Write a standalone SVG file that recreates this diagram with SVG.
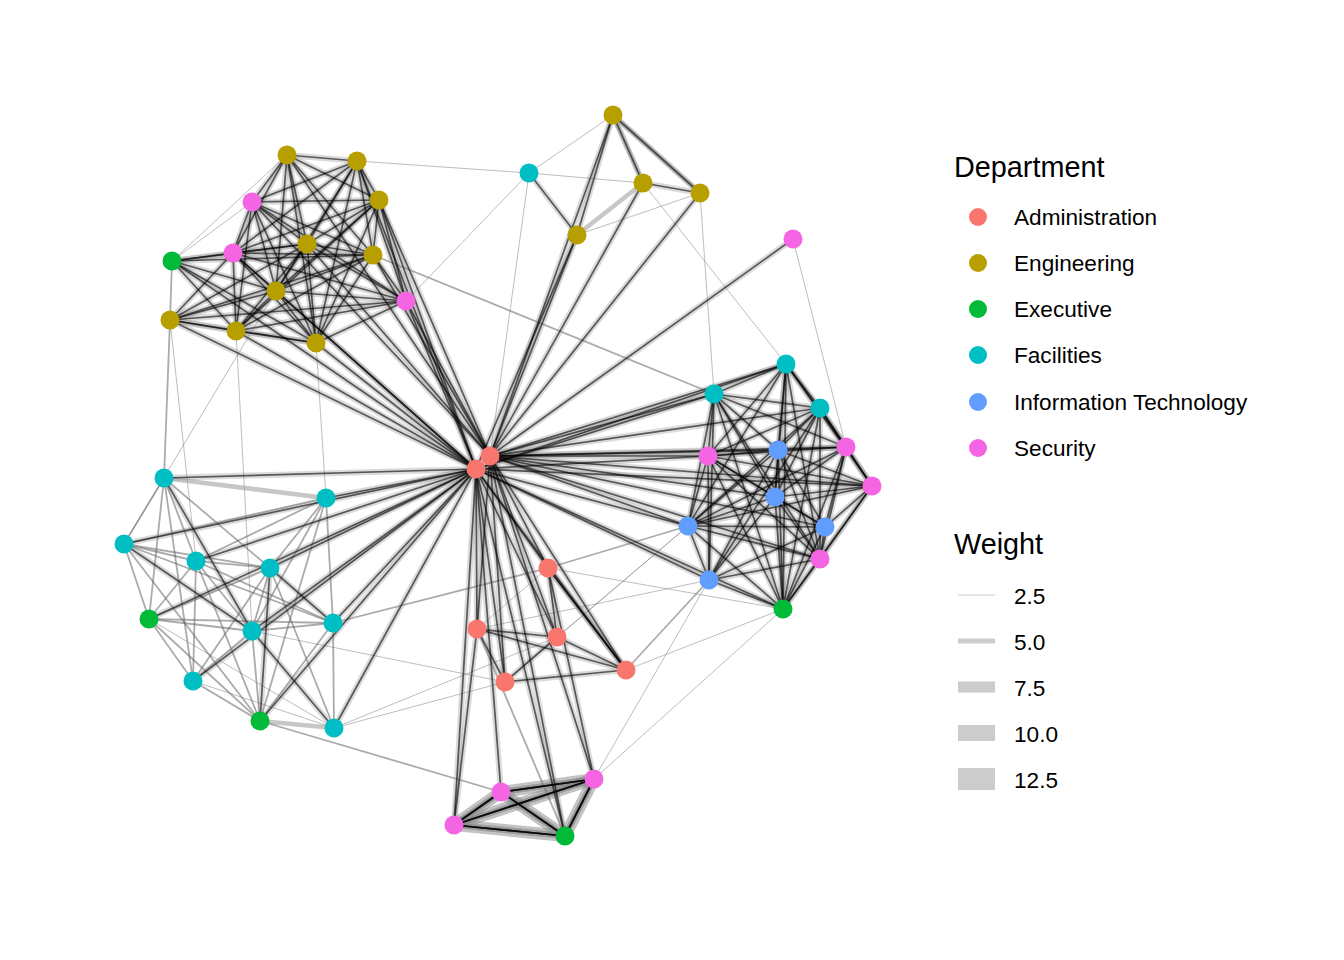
<svg xmlns="http://www.w3.org/2000/svg" xmlns:xlink="http://www.w3.org/1999/xlink" width="1344" height="960" viewBox="0 0 1344 960">
<style>
.core{stroke:#000;stroke-opacity:.6;stroke-width:1.7;fill:none}
.halo{stroke:#888;stroke-opacity:.3;stroke-width:6;fill:none}
.med{stroke:#666;stroke-opacity:.55;stroke-width:1.8;fill:none}
.weak{stroke:#777;stroke-opacity:.6;stroke-width:.8;fill:none}
.thick{stroke:#999;stroke-opacity:.55;stroke-width:4.5;fill:none}
.quad{stroke:#888;stroke-opacity:.5;stroke-width:12;fill:none}
.adm{fill:#F8766D}.eng{fill:#B79F00}.exe{fill:#00BA38}.fac{fill:#00BFC4}.it{fill:#619CFF}.sec{fill:#F564E3}
.lt{font-family:"Liberation Sans",Arial,sans-serif;fill:#000}
.title{font-size:28.8px}
.item{font-size:22.6px}
.wl{stroke:#cccccc}
</style>
<rect width="1344" height="960" fill="#fff"/>
<g id="connectors">
<g class="weak">
<path d="M357 161L529 173"/><path d="M529 173L406 301"/><path d="M529 173L490 456"/><path d="M529 173L613 115"/><path d="M529 173L643 183"/>
<path d="M577 235L700 193"/><path d="M793 239L846 447"/><path d="M700 193L714 394"/><path d="M643 183L786 364"/>
<path d="M316 343L326 498"/><path d="M236 331L252 631"/><path d="M170 320L196 561"/><path d="M276 291L124 544"/>
<path d="M505 682L252 631"/><path d="M557 637L334 728"/><path d="M594 779L709 580"/><path d="M594 779L783 609"/>
<path d="M626 670L783 609"/><path d="M505 682L688 526"/><path d="M557 637L688 526"/><path d="M548 568L783 609"/>
<path d="M477 629L709 580"/><path d="M172 261L287 155"/><path d="M172 261L252 202"/><path d="M548 568L477 629"/>
<path d="M334 728L505 682"/><path d="M193 681L334 728"/><path d="M149 619L334 728"/>
</g>
<g class="thick">
<path d="M164 478L326 498"/><path d="M260 721L334 728"/><path d="M643 183L577 235"/><path d="M613 115L700 193"/><path d="M613 115L643 183"/>
</g>
<g class="quad">
<path d="M501 792L594 779"/><path d="M501 792L454 825"/><path d="M501 792L565 836"/><path d="M594 779L454 825"/><path d="M594 779L565 836"/><path d="M454 825L565 836"/>
</g>
<g class="med">
<path d="M170 320L164 478"/><path d="M172 261L170 320"/><path d="M373 255L714 394"/><path d="M548 568L688 526"/>
<path d="M626 670L709 580"/><path d="M333 623L548 568"/><path d="M260 721L501 792"/><path d="M565 836L477 629"/>
<path d="M164 478L124 544"/><path d="M164 478L196 561"/><path d="M164 478L270 568"/><path d="M164 478L149 619"/><path d="M164 478L193 681"/>
<path d="M124 544L196 561"/><path d="M124 544L270 568"/><path d="M124 544L333 623"/><path d="M124 544L149 619"/><path d="M124 544L260 721"/><path d="M124 544L326 498"/>
<path d="M196 561L270 568"/><path d="M196 561L252 631"/><path d="M196 561L333 623"/><path d="M196 561L149 619"/><path d="M196 561L193 681"/><path d="M196 561L260 721"/><path d="M196 561L326 498"/>
<path d="M270 568L252 631"/><path d="M270 568L193 681"/><path d="M270 568L334 728"/><path d="M270 568L326 498"/><path d="M270 568L149 619"/>
<path d="M252 631L333 623"/><path d="M252 631L193 681"/><path d="M252 631L260 721"/><path d="M252 631L149 619"/><path d="M252 631L326 498"/>
<path d="M333 623L334 728"/><path d="M333 623L260 721"/><path d="M333 623L149 619"/><path d="M333 623L326 498"/>
<path d="M193 681L260 721"/><path d="M193 681L149 619"/><path d="M149 619L260 721"/><path d="M260 721L326 498"/>
</g>
<use href="#strongEdges" xlink:href="#strongEdges" class="halo"/>
<g class="core">
<g id="strongEdges">
<path d="M476 469L170 320"/><path d="M476 469L236 331"/><path d="M476 469L276 291"/><path d="M476 469L172 261"/><path d="M476 469L233 253"/><path d="M476 469L316 343"/>
<path d="M490 456L307 244"/><path d="M490 456L287 155"/><path d="M490 456L379 200"/><path d="M490 456L373 255"/><path d="M490 456L406 301"/><path d="M476 469L406 301"/>
<path d="M490 456L252 202"/><path d="M476 469L357 161"/><path d="M476 469L379 200"/>
<path d="M490 456L577 235"/><path d="M476 469L577 235"/><path d="M490 456L613 115"/><path d="M490 456L643 183"/><path d="M490 456L700 193"/><path d="M490 456L793 239"/>
<path d="M490 456L786 364"/><path d="M476 469L786 364"/><path d="M490 456L714 394"/><path d="M476 469L714 394"/><path d="M490 456L708 456"/><path d="M476 469L708 456"/>
<path d="M490 456L778 450"/><path d="M490 456L846 447"/><path d="M490 456L872 486"/><path d="M476 469L872 486"/><path d="M490 456L775 497"/><path d="M490 456L688 526"/>
<path d="M476 469L688 526"/><path d="M490 456L825 527"/><path d="M490 456L820 559"/><path d="M476 469L709 580"/><path d="M476 469L783 609"/><path d="M490 456L820 408"/>
<path d="M490 456L548 568"/><path d="M476 469L548 568"/><path d="M476 469L477 629"/><path d="M490 456L477 629"/><path d="M476 469L557 637"/><path d="M490 456L557 637"/>
<path d="M476 469L505 682"/><path d="M490 456L505 682"/><path d="M490 456L626 670"/><path d="M476 469L626 670"/><path d="M476 469L501 792"/><path d="M490 456L594 779"/>
<path d="M476 469L454 825"/><path d="M490 456L565 836"/><path d="M476 469L565 836"/>
<path d="M476 469L164 478"/><path d="M476 469L326 498"/><path d="M476 469L124 544"/><path d="M476 469L196 561"/><path d="M476 469L270 568"/><path d="M476 469L252 631"/>
<path d="M476 469L333 623"/><path d="M476 469L193 681"/><path d="M476 469L334 728"/><path d="M476 469L149 619"/><path d="M476 469L260 721"/>
<path d="M287 155L357 161"/><path d="M287 155L252 202"/><path d="M287 155L233 253"/><path d="M287 155L307 244"/><path d="M287 155L373 255"/><path d="M287 155L379 200"/>
<path d="M287 155L276 291"/><path d="M287 155L316 343"/><path d="M357 161L379 200"/><path d="M357 161L252 202"/><path d="M357 161L307 244"/><path d="M357 161L373 255"/>
<path d="M357 161L276 291"/><path d="M357 161L316 343"/><path d="M357 161L406 301"/><path d="M357 161L233 253"/><path d="M379 200L252 202"/><path d="M379 200L307 244"/>
<path d="M379 200L373 255"/><path d="M379 200L406 301"/><path d="M379 200L276 291"/><path d="M379 200L316 343"/><path d="M379 200L233 253"/><path d="M379 200L236 331"/>
<path d="M252 202L233 253"/><path d="M252 202L307 244"/><path d="M252 202L373 255"/><path d="M252 202L276 291"/><path d="M252 202L316 343"/><path d="M252 202L406 301"/>
<path d="M252 202L236 331"/><path d="M233 253L172 261"/><path d="M233 253L373 255"/><path d="M233 253L307 244"/><path d="M233 253L276 291"/><path d="M233 253L316 343"/>
<path d="M233 253L236 331"/><path d="M233 253L170 320"/><path d="M233 253L406 301"/><path d="M172 261L373 255"/><path d="M172 261L276 291"/><path d="M172 261L316 343"/>
<path d="M172 261L307 244"/><path d="M172 261L236 331"/><path d="M307 244L373 255"/><path d="M307 244L276 291"/><path d="M307 244L316 343"/><path d="M307 244L236 331"/>
<path d="M307 244L406 301"/><path d="M307 244L170 320"/><path d="M373 255L276 291"/><path d="M373 255L316 343"/><path d="M373 255L406 301"/><path d="M373 255L236 331"/>
<path d="M373 255L170 320"/><path d="M276 291L236 331"/><path d="M276 291L316 343"/><path d="M276 291L170 320"/><path d="M276 291L406 301"/><path d="M170 320L236 331"/>
<path d="M170 320L316 343"/><path d="M170 320L406 301"/><path d="M236 331L316 343"/><path d="M236 331L406 301"/><path d="M316 343L406 301"/>
<path d="M786 364L714 394"/><path d="M786 364L820 408"/><path d="M786 364L708 456"/><path d="M786 364L778 450"/><path d="M786 364L775 497"/><path d="M786 364L846 447"/>
<path d="M786 364L872 486"/><path d="M786 364L783 609"/><path d="M786 364L688 526"/><path d="M786 364L820 559"/><path d="M714 394L820 408"/><path d="M714 394L708 456"/>
<path d="M714 394L778 450"/><path d="M714 394L775 497"/><path d="M714 394L846 447"/><path d="M714 394L688 526"/><path d="M714 394L820 559"/><path d="M714 394L783 609"/>
<path d="M714 394L709 580"/><path d="M820 408L846 447"/><path d="M820 408L872 486"/><path d="M820 408L778 450"/><path d="M820 408L775 497"/><path d="M820 408L708 456"/>
<path d="M820 408L688 526"/><path d="M820 408L820 559"/><path d="M820 408L709 580"/><path d="M820 408L783 609"/><path d="M708 456L778 450"/><path d="M708 456L775 497"/>
<path d="M708 456L846 447"/><path d="M708 456L872 486"/><path d="M708 456L688 526"/><path d="M708 456L825 527"/><path d="M708 456L820 559"/><path d="M708 456L709 580"/>
<path d="M708 456L783 609"/><path d="M778 450L775 497"/><path d="M778 450L846 447"/><path d="M778 450L872 486"/><path d="M778 450L688 526"/><path d="M778 450L825 527"/>
<path d="M778 450L820 559"/><path d="M778 450L783 609"/><path d="M778 450L709 580"/><path d="M846 447L872 486"/><path d="M846 447L775 497"/><path d="M846 447L688 526"/>
<path d="M846 447L825 527"/><path d="M846 447L820 559"/><path d="M846 447L783 609"/><path d="M872 486L775 497"/><path d="M872 486L688 526"/><path d="M872 486L825 527"/>
<path d="M872 486L820 559"/><path d="M872 486L783 609"/><path d="M775 497L688 526"/><path d="M775 497L825 527"/><path d="M775 497L820 559"/><path d="M775 497L709 580"/>
<path d="M775 497L783 609"/><path d="M688 526L825 527"/><path d="M688 526L820 559"/><path d="M688 526L709 580"/><path d="M688 526L783 609"/><path d="M825 527L820 559"/>
<path d="M825 527L783 609"/><path d="M825 527L709 580"/><path d="M820 559L783 609"/><path d="M820 559L709 580"/><path d="M709 580L783 609"/>
<path d="M501 792L594 779"/><path d="M501 792L454 825"/><path d="M501 792L565 836"/><path d="M594 779L454 825"/><path d="M594 779L565 836"/><path d="M454 825L565 836"/>
<path d="M501 792L594 779"/><path d="M501 792L454 825"/><path d="M501 792L565 836"/><path d="M594 779L454 825"/><path d="M594 779L565 836"/><path d="M454 825L565 836"/>
<path d="M501 792L594 779"/><path d="M501 792L454 825"/><path d="M501 792L565 836"/><path d="M594 779L454 825"/><path d="M594 779L565 836"/><path d="M454 825L565 836"/>
<path d="M594 779L548 568"/><path d="M454 825L477 629"/>
<path d="M548 568L557 637"/><path d="M548 568L626 670"/><path d="M477 629L557 637"/><path d="M477 629L505 682"/><path d="M477 629L626 670"/><path d="M557 637L505 682"/>
<path d="M557 637L626 670"/><path d="M505 682L626 670"/><path d="M548 568L626 670"/>
<path d="M613 115L643 183"/><path d="M613 115L700 193"/><path d="M613 115L577 235"/><path d="M643 183L700 193"/><path d="M577 235L529 173"/>
<path d="M164 478L252 631"/><path d="M124 544L252 631"/><path d="M270 568L333 623"/><path d="M252 631L334 728"/><path d="M270 568L260 721"/>
</g>
</g>
</g>
<g id="nodes">
<g id="n-A1"><circle class="adm" cx="490" cy="456" r="9.5"/></g>
<g id="n-A2"><circle class="adm" cx="476" cy="469" r="9.5"/></g>
<g id="n-A3"><circle class="adm" cx="548" cy="568" r="9.5"/></g>
<g id="n-A4"><circle class="adm" cx="477" cy="629" r="9.5"/></g>
<g id="n-A5"><circle class="adm" cx="557" cy="637" r="9.5"/></g>
<g id="n-A6"><circle class="adm" cx="505" cy="682" r="9.5"/></g>
<g id="n-A7"><circle class="adm" cx="626" cy="670" r="9.5"/></g>
<g id="n-E1"><circle class="eng" cx="287" cy="155" r="9.5"/></g>
<g id="n-E2"><circle class="eng" cx="357" cy="161" r="9.5"/></g>
<g id="n-E3"><circle class="eng" cx="379" cy="200" r="9.5"/></g>
<g id="n-E4"><circle class="eng" cx="307" cy="244" r="9.5"/></g>
<g id="n-E5"><circle class="eng" cx="373" cy="255" r="9.5"/></g>
<g id="n-E6"><circle class="eng" cx="276" cy="291" r="9.5"/></g>
<g id="n-E7"><circle class="eng" cx="170" cy="320" r="9.5"/></g>
<g id="n-E8"><circle class="eng" cx="236" cy="331" r="9.5"/></g>
<g id="n-E9"><circle class="eng" cx="316" cy="343" r="9.5"/></g>
<g id="n-E10"><circle class="eng" cx="613" cy="115" r="9.5"/></g>
<g id="n-E11"><circle class="eng" cx="643" cy="183" r="9.5"/></g>
<g id="n-E12"><circle class="eng" cx="700" cy="193" r="9.5"/></g>
<g id="n-E13"><circle class="eng" cx="577" cy="235" r="9.5"/></g>
<g id="n-X1"><circle class="exe" cx="172" cy="261" r="9.5"/></g>
<g id="n-X2"><circle class="exe" cx="149" cy="619" r="9.5"/></g>
<g id="n-X3"><circle class="exe" cx="260" cy="721" r="9.5"/></g>
<g id="n-X4"><circle class="exe" cx="565" cy="836" r="9.5"/></g>
<g id="n-X5"><circle class="exe" cx="783" cy="609" r="9.5"/></g>
<g id="n-F1"><circle class="fac" cx="529" cy="173" r="9.5"/></g>
<g id="n-F2"><circle class="fac" cx="164" cy="478" r="9.5"/></g>
<g id="n-F3"><circle class="fac" cx="326" cy="498" r="9.5"/></g>
<g id="n-F4"><circle class="fac" cx="124" cy="544" r="9.5"/></g>
<g id="n-F5"><circle class="fac" cx="196" cy="561" r="9.5"/></g>
<g id="n-F6"><circle class="fac" cx="270" cy="568" r="9.5"/></g>
<g id="n-F7"><circle class="fac" cx="252" cy="631" r="9.5"/></g>
<g id="n-F8"><circle class="fac" cx="333" cy="623" r="9.5"/></g>
<g id="n-F9"><circle class="fac" cx="193" cy="681" r="9.5"/></g>
<g id="n-F10"><circle class="fac" cx="334" cy="728" r="9.5"/></g>
<g id="n-F11"><circle class="fac" cx="786" cy="364" r="9.5"/></g>
<g id="n-F12"><circle class="fac" cx="714" cy="394" r="9.5"/></g>
<g id="n-F13"><circle class="fac" cx="820" cy="408" r="9.5"/></g>
<g id="n-I1"><circle class="it" cx="778" cy="450" r="9.5"/></g>
<g id="n-I2"><circle class="it" cx="775" cy="497" r="9.5"/></g>
<g id="n-I3"><circle class="it" cx="688" cy="526" r="9.5"/></g>
<g id="n-I4"><circle class="it" cx="825" cy="527" r="9.5"/></g>
<g id="n-I5"><circle class="it" cx="709" cy="580" r="9.5"/></g>
<g id="n-S1"><circle class="sec" cx="252" cy="202" r="9.5"/></g>
<g id="n-S2"><circle class="sec" cx="233" cy="253" r="9.5"/></g>
<g id="n-S3"><circle class="sec" cx="406" cy="301" r="9.5"/></g>
<g id="n-S4"><circle class="sec" cx="793" cy="239" r="9.5"/></g>
<g id="n-S5"><circle class="sec" cx="708" cy="456" r="9.5"/></g>
<g id="n-S6"><circle class="sec" cx="846" cy="447" r="9.5"/></g>
<g id="n-S7"><circle class="sec" cx="872" cy="486" r="9.5"/></g>
<g id="n-S8"><circle class="sec" cx="820" cy="559" r="9.5"/></g>
<g id="n-S9"><circle class="sec" cx="501" cy="792" r="9.5"/></g>
<g id="n-S10"><circle class="sec" cx="594" cy="779" r="9.5"/></g>
<g id="n-S11"><circle class="sec" cx="454" cy="825" r="9.5"/></g>
</g>
<g id="legend-department">
<text class="lt title" x="954" y="177">Department</text>
<circle class="adm" cx="978" cy="217" r="9"/><text class="lt item" x="1014" y="225">Administration</text>
<circle class="eng" cx="978" cy="263" r="9"/><text class="lt item" x="1014" y="271">Engineering</text>
<circle class="exe" cx="978" cy="309" r="9"/><text class="lt item" x="1014" y="317">Executive</text>
<circle class="fac" cx="978" cy="355" r="9"/><text class="lt item" x="1014" y="363">Facilities</text>
<circle class="it" cx="978" cy="402" r="9"/><text class="lt item" x="1014" y="410">Information Technology</text>
<circle class="sec" cx="978" cy="448" r="9"/><text class="lt item" x="1014" y="456">Security</text>
</g>
<g id="legend-weight">
<text class="lt title" x="954" y="554">Weight</text>
<line class="wl" x1="958" y1="595" x2="995" y2="595" stroke-width="1"/><text class="lt item" x="1014" y="604">2.5</text>
<line class="wl" x1="958" y1="641" x2="995" y2="641" stroke-width="5"/><text class="lt item" x="1014" y="650">5.0</text>
<line class="wl" x1="958" y1="687" x2="995" y2="687" stroke-width="11"/><text class="lt item" x="1014" y="696">7.5</text>
<line class="wl" x1="958" y1="733" x2="995" y2="733" stroke-width="16"/><text class="lt item" x="1014" y="742">10.0</text>
<line class="wl" x1="958" y1="779" x2="995" y2="779" stroke-width="22"/><text class="lt item" x="1014" y="788">12.5</text>
</g>
</svg>
